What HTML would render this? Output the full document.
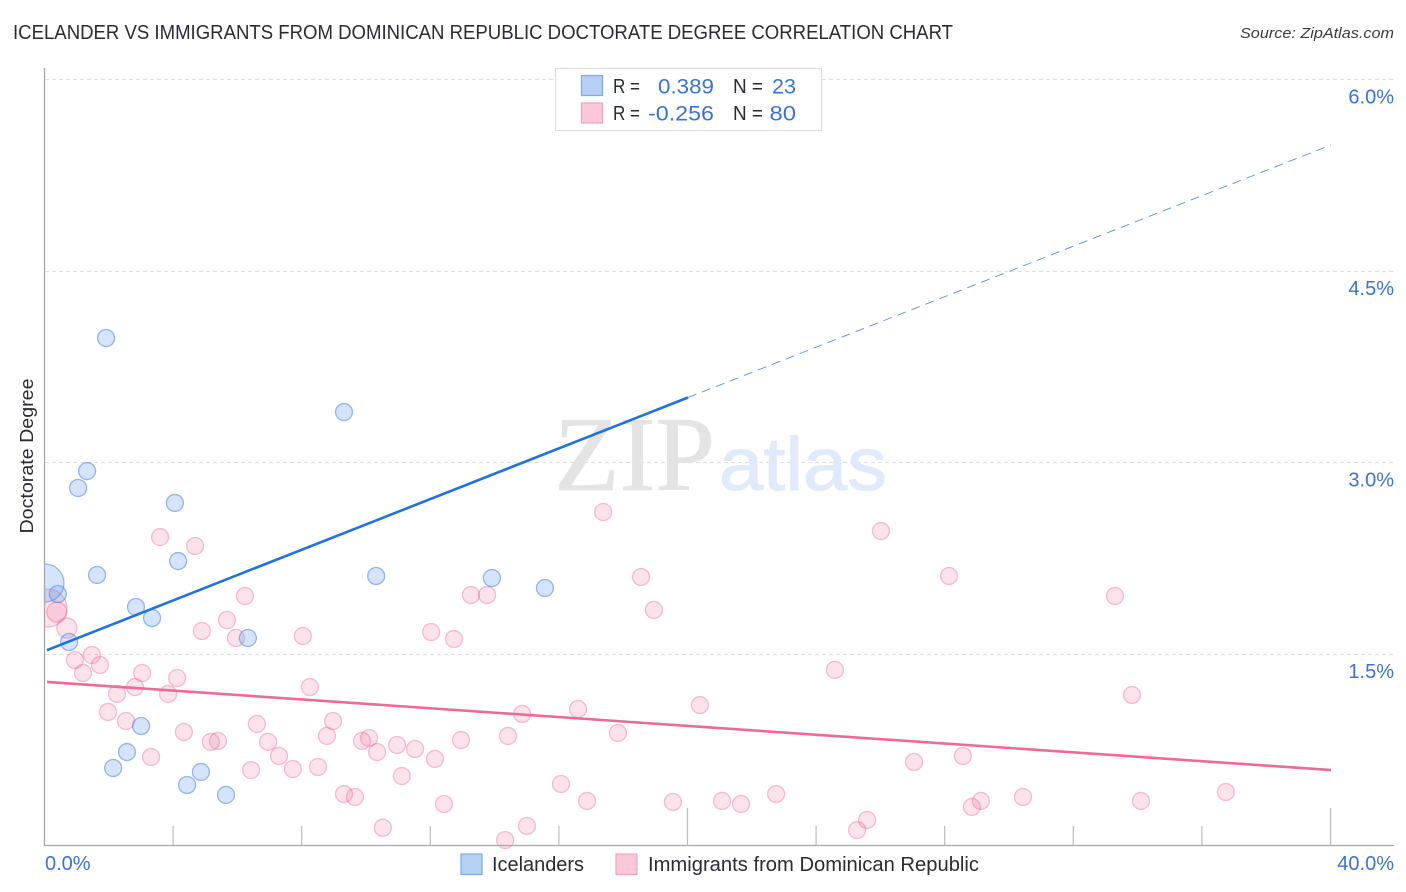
<!DOCTYPE html>
<html lang="en">
<head>
<meta charset="utf-8">
<title>Icelander vs Immigrants from Dominican Republic Doctorate Degree Correlation Chart</title>
<style>
html,body{margin:0;padding:0;background:#fff;width:1406px;height:892px;overflow:hidden}
svg{display:block;font-family:"Liberation Sans",sans-serif}
</style>
</head>
<body>
<svg id="chart" width="1406" height="892" viewBox="0 0 1406 892" xmlns="http://www.w3.org/2000/svg">
  <text x="13" y="39" font-size="20" fill="#2b2b33" textLength="940" lengthAdjust="spacingAndGlyphs">ICELANDER VS IMMIGRANTS FROM DOMINICAN REPUBLIC DOCTORATE DEGREE CORRELATION CHART</text>
  <text x="1394" y="38" font-size="15" font-style="italic" fill="#3a3a42" text-anchor="end" textLength="154" lengthAdjust="spacingAndGlyphs">Source: ZipAtlas.com</text>
  <g id="grid"></g>
  <g>
    <text x="554" y="490" font-family="'Liberation Serif',serif" font-size="106" fill="#e4e4e4" stroke="#e4e4e4" stroke-width="0.8" textLength="161" lengthAdjust="spacingAndGlyphs">ZIP</text>
    <text x="719" y="490" font-size="75" fill="#e0eafa" stroke="#e0eafa" stroke-width="1" textLength="168" lengthAdjust="spacingAndGlyphs">atlas</text>
  </g>
  <g id="points"></g>
  <g id="trends"></g>
  <rect x="0" y="60" width="44.5" height="790" fill="#fff"/>
  <g id="axes"></g>
  <g id="ticklabels"></g>
  <text transform="translate(33,456) rotate(-90)" font-size="18" fill="#2b2b33" text-anchor="middle" textLength="155" lengthAdjust="spacingAndGlyphs">Doctorate Degree</text>

  <g>
    <rect x="555.5" y="68.5" width="266" height="62" fill="#fff" fill-opacity="0.9" stroke="#dcdcdc" stroke-width="1.2"/>
    <rect x="581.5" y="75.5" width="21" height="20" fill="#b5d0f5" stroke="#7eaae6" stroke-width="1.2"/>
    <rect x="581.5" y="103" width="21" height="20" fill="#fcc7d8" stroke="#f2a3bd" stroke-width="1.2"/>
    <g font-size="20" fill="#2b2b33">
      <text x="613" y="93" textLength="27" lengthAdjust="spacingAndGlyphs">R =</text>
      <text x="613" y="120" textLength="27" lengthAdjust="spacingAndGlyphs">R =</text>
      <text x="733" y="93" textLength="30" lengthAdjust="spacingAndGlyphs">N =</text>
      <text x="733" y="120" textLength="30" lengthAdjust="spacingAndGlyphs">N =</text>
    </g>
    <g font-size="21" fill="#3b73d1">
      <text x="658" y="93.5" textLength="56" lengthAdjust="spacingAndGlyphs">0.389</text>
      <text x="648" y="120.5" textLength="66" lengthAdjust="spacingAndGlyphs">-0.256</text>
      <text x="772" y="93.5" textLength="24" lengthAdjust="spacingAndGlyphs">23</text>
      <text x="769.5" y="120.5" textLength="26.5" lengthAdjust="spacingAndGlyphs">80</text>
    </g>
  </g>

  <g>
    <g>
      <rect x="461" y="854" width="21" height="20.5" fill="#b5d0f5" stroke="#7eaae6" stroke-width="1.2"/>
      <text x="492" y="871" font-size="20" fill="#2b2b33" textLength="92" lengthAdjust="spacingAndGlyphs">Icelanders</text>
    </g>
    <g>
      <rect x="616" y="854" width="21" height="20.5" fill="#fcc7d8" stroke="#f2a3bd" stroke-width="1.2"/>
      <text x="648" y="871" font-size="20" fill="#2b2b33" textLength="331" lengthAdjust="spacingAndGlyphs">Immigrants from Dominican Republic</text>
    </g>
  </g>
</svg>
<script>
const yTickValues = [1.5, 3.0, 4.5, 6.0];
const yTickLabels = ["1.5%", "3.0%", "4.5%", "6.0%"];
const xTickValues = [0, 4, 8, 12, 16, 20, 24, 28, 32, 36, 40];
const xMajorTicks = [20, 40];
const xEndLabels = ["0.0%", "40.0%"];

const blueX = [1.90,9.30,1.31,1.03,4.04,4.14,1.62,10.30,13.90,15.55,0.40,2.83,3.33,6.31,0.75,2.99,2.55,2.12,4.85,4.42,5.63,17.64,0.0];
const blueY = [3.975,3.395,2.933,2.80,2.683,2.228,2.119,2.111,2.095,2.017,1.97,1.868,1.782,1.625,1.594,0.936,0.732,0.607,0.576,0.474,0.396,5.863,2.056];
const blueWeight = [1,1,1,1,1,1,1,1,1,1,1,1,1,1,1,1,1,1,1,1,1,1,5];

const pinkX = [3.58,4.67,17.36,26.0,18.54,28.12,6.22,13.25,13.75,33.28,18.94,5.66,4.88,5.94,8.02,12.01,12.72,0.68,0.37,0.09,1.46,0.93,1.71,1.18,3.02,4.11,24.57,2.80,2.24,3.83,8.24,33.81,20.37,16.58,14.84,1.96,2.52,6.59,8.96,4.32,8.77,14.40,17.82,10.08,9.86,5.16,5.38,6.94,10.95,11.51,10.33,12.94,7.28,3.30,12.13,28.55,27.03,6.41,7.71,8.49,11.10,16.05,9.30,9.64,22.74,30.42,36.73,16.86,19.53,21.06,21.65,12.41,34.09,29.11,28.83,25.57,25.26,10.51,14.99,14.31];
const pinkY = [2.416,2.346,2.612,2.463,2.103,2.111,1.954,1.962,1.962,1.954,1.845,1.766,1.68,1.625,1.641,1.672,1.617,1.704,1.829,1.860,1.492,1.453,1.414,1.351,1.351,1.312,1.375,1.241,1.187,1.187,1.241,1.179,1.1,1.069,1.03,1.046,0.975,0.952,0.975,0.889,0.858,0.858,0.881,0.842,0.819,0.811,0.819,0.811,0.787,0.756,0.732,0.826,0.701,0.693,0.678,0.701,0.654,0.591,0.599,0.615,0.544,0.482,0.403,0.380,0.403,0.380,0.419,0.349,0.341,0.349,0.325,0.325,0.349,0.349,0.302,0.2,0.121,0.139,0.153,0.043];
const pinkWeight = [1,1,1,1,1,1,1,1,1,1,1,1,1,1,1,1,1,1.4,1.4,5,1,1,1,1,1,1,1,1,1,1,1,1,1,1,1,1,1,1,1,1,1,1,1,1,1,1,1,1,1,1,1,1,1,1,1,1,1,1,1,1,1,1,1,1,1,1,1,1,1,1,1,1,1,1,1,1,1,1,1,1];

const blueTrendX = [0.06, 20, 40];
const blueTrendY = [1.53, 3.509, 5.487];
const pinkTrendX = [0.06, 40];
const pinkTrendY = [1.281, 0.591];

const NS = "http://www.w3.org/2000/svg";
const xScale = v => 45 + v * 32.15;
const yScale = v => 845.5 - v * 127.67;
const radius = w => 8.5 * Math.sqrt(w);

function make(tag, attrs, parent) {
  const el = document.createElementNS(NS, tag);
  for (const k in attrs) el.setAttribute(k, attrs[k]);
  parent.appendChild(el);
  return el;
}

const grid = document.getElementById("grid");
const axes = document.getElementById("axes");
const points = document.getElementById("points");
const trends = document.getElementById("trends");
const labels = document.getElementById("ticklabels");

yTickValues.forEach((v, i) => {
  const y = Math.round(yScale(v)) + 0.5;
  const line = make("line", {x1: 45, x2: 1394, y1: y, y2: y, stroke: "#dedede", "stroke-width": 1, "stroke-dasharray": "4 3"}, grid);
  
  
  const t = make("text", {x: 1394, y: yScale(v) + 24, "font-size": 20, fill: "#3b73d1", "text-anchor": "end"}, labels);
  t.textContent = yTickLabels[i];
  
  
});

xTickValues.slice(1).forEach(v => {
  const x = xScale(v) - 0.5;
  const top = xMajorTicks.includes(v) ? 808 : 826;
  const tick = make("line", {x1: x, x2: x, y1: top, y2: 846, stroke: "#bcbcbc", "stroke-width": 1.2}, axes);
  
  
});

const yAxis = make("line", {x1: 44.5, x2: 44.5, y1: 68, y2: 846, stroke: "#a8a8a8", "stroke-width": 1.3}, axes);


const xAxis = make("line", {x1: 44, x2: 1394, y1: 845.5, y2: 845.5, stroke: "#a8a8a8", "stroke-width": 1.3}, axes);



const xLabelStart = make("text", {x: 45, y: 870, "font-size": 20, fill: "#3b73d1"}, labels);
xLabelStart.textContent = xEndLabels[0];


const xLabelEnd = make("text", {x: 1394, y: 870, "font-size": 20, fill: "#3b73d1", "text-anchor": "end"}, labels);
xLabelEnd.textContent = xEndLabels[1];



pinkX.forEach((v, i) => {
  const c = make("circle", {cx: xScale(v), cy: yScale(pinkY[i]), r: radius(pinkWeight[i]), fill: "rgba(240,110,155,.2)", stroke: "rgba(235,100,145,.4)", "stroke-width": 1.3}, points);
  
  
});
blueX.forEach((v, i) => {
  const c = make("circle", {cx: xScale(v), cy: yScale(blueY[i]), r: radius(blueWeight[i]), fill: "rgba(100,155,235,.27)", stroke: "rgba(60,120,220,.5)", "stroke-width": 1.3}, points);
  
  
});

const blueSolid = make("line", {x1: xScale(blueTrendX[0]), y1: yScale(blueTrendY[0]), x2: xScale(blueTrendX[1]), y2: yScale(blueTrendY[1]), stroke: "#2272dc", "stroke-width": 2.6}, trends);


const blueDash = make("line", {x1: xScale(blueTrendX[1]), y1: yScale(blueTrendY[1]), x2: xScale(blueTrendX[2]), y2: yScale(blueTrendY[2]), stroke: "#5a8fdc", "stroke-width": 0.9, "stroke-dasharray": "9 6"}, trends);


const pinkLine = make("line", {x1: xScale(pinkTrendX[0]), y1: yScale(pinkTrendY[0]), x2: xScale(pinkTrendX[1]), y2: yScale(pinkTrendY[1]), stroke: "#ec6a9a", "stroke-width": 2.6}, trends);


</script>
</body>
</html>
